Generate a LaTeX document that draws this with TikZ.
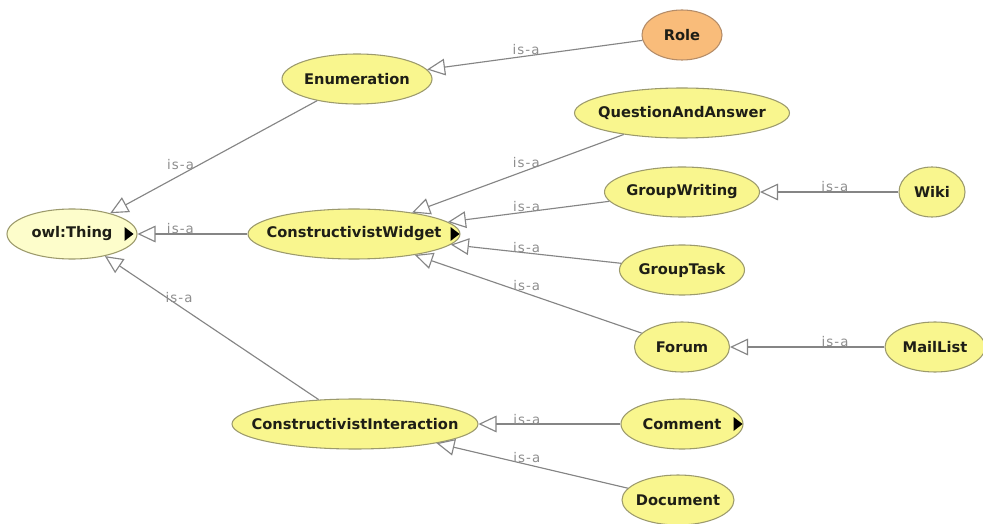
\documentclass[tikz,border=0pt]{standalone}
\usepackage{fontspec}
\setmainfont{DejaVu Sans}
\newfontfamily\relfont[LetterSpace=8]{DejaVu Sans}
\usetikzlibrary{arrows.meta,shapes.geometric}

\definecolor{classfill}{HTML}{F9F68E}
\definecolor{thingfill}{HTML}{FDFDCB}
\definecolor{rolefill}{HTML}{F9BC7A}
\definecolor{classline}{HTML}{9C9A6C}
\definecolor{roleline}{HTML}{B48C68}
\definecolor{edgegrey}{HTML}{858585}
\definecolor{labelgrey}{HTML}{8E8E8E}
\definecolor{classtext}{HTML}{1E1E16}

% class names take no room of their own: the ellipse size is set by the style
\newcommand\clsname[1]{\makebox[0pt][c]{#1}}

\tikzset{
  x=0.75pt, y=-0.75pt,
  owlclass/.style 2 args={ellipse, draw=classline, fill=classfill,
    line width=0.8pt, inner sep=0pt,
    minimum width=#1*0.75pt, minimum height=#2*0.75pt,
    text=classtext, font=\bfseries\fontsize{11}{13}\selectfont},
  isa/.style={draw=edgegrey, line width=0.85pt,
    -{Triangle[fill=white, length=13.5pt, width=12.5pt]}},
  lbl/.style={anchor=base, inner sep=0pt, text=labelgrey,
    font=\relfont\fontsize{10}{12}\selectfont},
  expander/.style={fill=black}
}

\begin{document}
\begin{tikzpicture}
\useasboundingbox[fill=white] (0,0) rectangle (983,524);

% classes
\node[owlclass={130}{50}, fill=thingfill] (thing) at (72,234) {\clsname{owl:Thing}};
\node[owlclass={150}{50}] (enum) at (357,79) {\clsname{Enumeration}};
\node[owlclass={80}{50}, fill=rolefill, draw=roleline] (role) at (682,35) {\clsname{Role}};
\node[owlclass={212}{50}] (widget) at (354,234) {\clsname{ConstructivistWidget}};
\node[owlclass={215}{50}] (qa) at (682,113) {\clsname{QuestionAndAnswer}};
\node[owlclass={155}{50}] (gw) at (682,192) {\clsname{GroupWriting}};
\node[owlclass={66}{50}] (wiki) at (932,192) {\clsname{Wiki}};
\node[owlclass={125}{50}] (gt) at (682,270) {\clsname{GroupTask}};
\node[owlclass={95}{50}] (forum) at (682,347) {\clsname{Forum}};
\node[owlclass={100}{50}] (mail) at (935,347) {\clsname{MailList}};
\node[owlclass={246}{50}] (inter) at (355,424) {\clsname{ConstructivistInteraction}};
\node[owlclass={122}{50}] (comment) at (682,424) {\clsname{Comment}};
\node[owlclass={112}{50}] (doc) at (678,500) {\clsname{Document}};

% expand markers
\fill[expander] (thing.east) ++(-4,0) -- ++(-9,-7) -- ++(0,14) -- cycle;
\fill[expander] (widget.east) ++(-1,0) -- ++(-9,-7) -- ++(0,14) -- cycle;
\fill[expander] (comment.east) ++(-1,0) -- ++(-9,-7) -- ++(0,14) -- cycle;

% subclass relations
\draw[isa] (role) -- node[lbl, pos=0.54, yshift=1.5pt] {is-a} (enum);
\draw[isa] (enum) -- node[lbl, pos=0.66, yshift=3.75pt] {is-a} (thing);
\draw[isa] (widget) -- node[lbl, pos=0.61] {is-a} (thing);
\draw[isa] (inter) -- node[lbl, pos=0.653, yshift=2.25pt] {is-a} (thing);
\draw[isa] (qa) -- node[lbl, pos=0.46, yshift=2.25pt] {is-a} (widget);
\draw[isa] (gw) -- node[lbl, pos=0.513] {is-a} (widget);
\draw[isa] (gt) -- node[lbl, pos=0.555] {is-a} (widget);
\draw[isa] (forum) -- node[lbl, pos=0.507, yshift=2.25pt] {is-a} (widget);
\draw[isa] (wiki) -- node[lbl, pos=0.46] {is-a} (gw);
\draw[isa] (mail) -- node[lbl, pos=0.32] {is-a} (forum);
\draw[isa] (comment) -- node[lbl, pos=0.66] {is-a} (inter);
\draw[isa] (doc) -- node[lbl, pos=0.528, yshift=1.5pt] {is-a} (inter);
\end{tikzpicture}
\end{document}
